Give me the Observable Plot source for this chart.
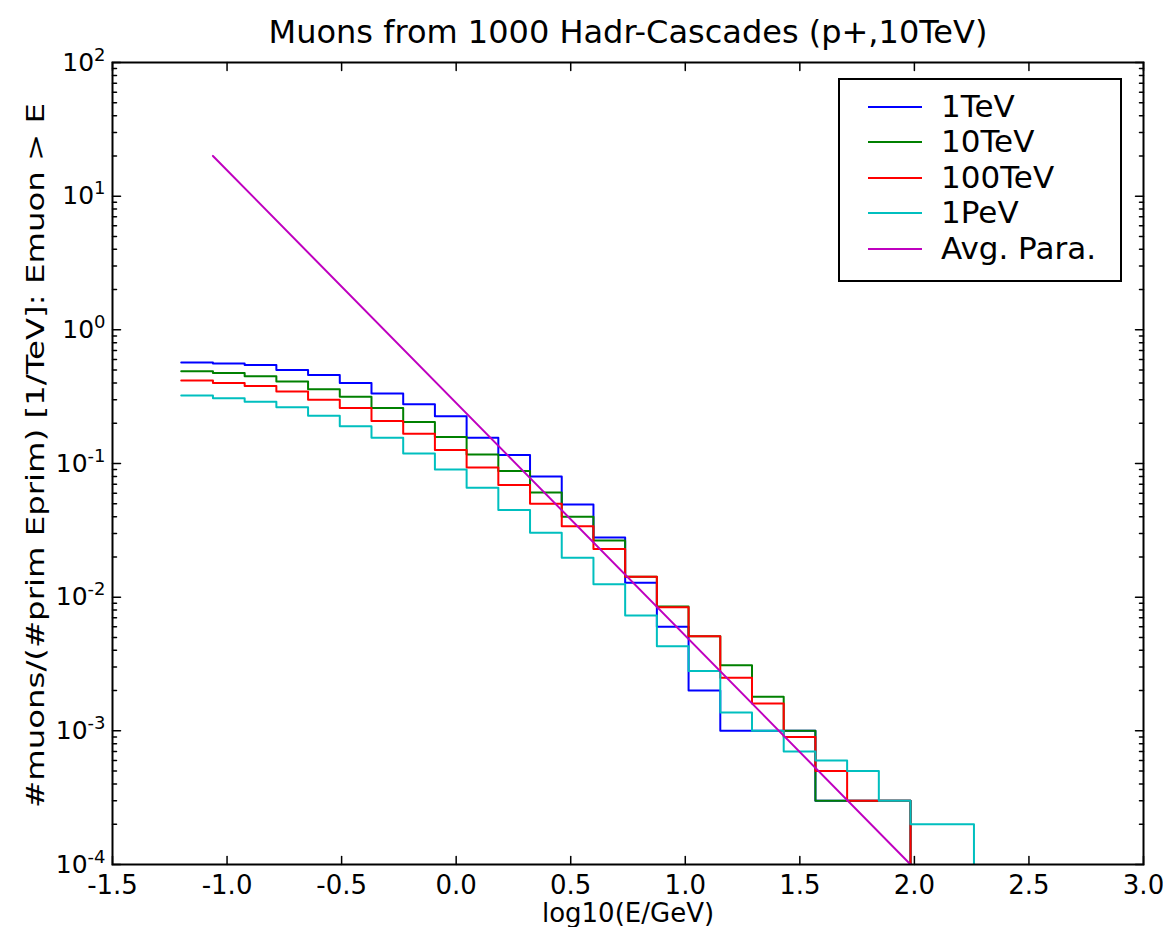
<!DOCTYPE html>
<html>
<head>
<meta charset="utf-8">
<script src="https://cdn.jsdelivr.net/npm/d3@7"></script>
<script src="https://cdn.jsdelivr.net/npm/@observablehq/plot@0.6"></script>
<style>
  body { margin: 0; background: #fff; }
  #wrap { position: relative; width: 1163px; height: 927px; font-family: "DejaVu Sans", sans-serif; }
  #legend { position: absolute; left: 838px; top: 78px; width: 284px; height: 204px; box-sizing: border-box;
            border: 2px solid #000; background: #fff; }
  .row { position: absolute; left: 0; height: 35.5px; line-height: 35.5px; font-size: 31px; color: #000; white-space: nowrap; }
  .swatch { position: absolute; left: 28px; top: 16.75px; width: 54px; height: 2px; }
  .lab { position: absolute; left: 101px; top: 0; }
</style>
</head>
<body>
<div id="wrap"></div>
<script>
// ---- data ----
const title = "Muons from 1000 Hadr-Cascades (p+,10TeV)";
const xLabel = "log10(E/GeV)";
const yLabel = "#muons/(#prim Eprim) [1/TeV]: Emuon > E";

const seriesNames = ["1TeV", "10TeV", "100TeV", "1PeV", "Avg. Para."];
const seriesColors = ["#0000ff", "#008000", "#ff0000", "#00bfbf", "#bf00bf"];

// histogram bin edges (log10(E/GeV))
const edges = [-1.2, -1.0616, -0.9232, -0.7848, -0.6464, -0.508, -0.3696, -0.2312, -0.0928,
               0.0456, 0.184, 0.3224, 0.4608, 0.5992, 0.7376, 0.876, 1.0144, 1.1528, 1.2912,
               1.4296, 1.568, 1.7064, 1.8448, 1.9832, 2.1216, 2.26];

const v1TeV = [0.57, 0.56, 0.545, 0.50, 0.46, 0.40, 0.334, 0.277, 0.226, 0.156, 0.116, 0.080,
               0.0494, 0.028, 0.0128, 0.006, 0.002, 0.001, 0.001, 0.001, 0.0003, 0.0003, 0.0003];
const v10TeV = [0.49, 0.475, 0.45, 0.41, 0.36, 0.316, 0.26, 0.204, 0.158, 0.117, 0.0877, 0.0607,
                0.040, 0.0265, 0.0142, 0.0085, 0.0051, 0.0031, 0.0018, 0.001, 0.0003, 0.0003, 0.0003];
const v100TeV = [0.418, 0.40, 0.38, 0.345, 0.30, 0.26, 0.208, 0.167, 0.126, 0.0935, 0.069, 0.050,
                 0.034, 0.0229, 0.0142, 0.0084, 0.0051, 0.0025, 0.0016, 0.0009, 0.0005, 0.0003, 0.0003];
const v1PeV = [0.323, 0.308, 0.29, 0.264, 0.228, 0.19, 0.156, 0.119, 0.090, 0.0658, 0.0449, 0.0303,
               0.0197, 0.0125, 0.0073, 0.0043, 0.0028, 0.00137, 0.001, 0.0007, 0.0006, 0.0005, 0.0003,
               0.0002, 0.0002];

// average parametrisation (straight line in log-log), end points
const paraX = [-1.0616, 1.9832];
const paraY = [20, 0.0001];

const xDomain = [-1.5, 3.0];
const yDomain = [1e-4, 1e2];
const xTicks = [-1.5, -1.0, -0.5, 0.0, 0.5, 1.0, 1.5, 2.0, 2.5, 3.0];
const yTicks = [1e-4, 1e-3, 1e-2, 1e-1, 1e0, 1e1, 1e2];
const yTickBase = "10";
const yTickExps = ["-4", "-3", "-2", "-1", "0", "1", "2"];

// ---- build tables ----
function stepPoints(name, vals) {
  const pts = vals.map((v, i) => ({series: name, x: edges[i], y: v}));
  const n = vals.length;
  pts.push({series: name, x: edges[n], y: vals[n - 1]});
  pts.push({series: name, x: edges[n], y: yDomain[0]});
  return pts;
}
const hist = [
  ...stepPoints(seriesNames[0], v1TeV),
  ...stepPoints(seriesNames[1], v10TeV),
  ...stepPoints(seriesNames[2], v100TeV),
  ...stepPoints(seriesNames[3], v1PeV)
];
const para = paraX.map((x, i) => ({series: seriesNames[4], x, y: paraY[i]}));

const yMinor = d3.scaleLog().domain(yDomain).ticks().filter(d => !yTicks.some(t => Math.abs(t - d) / t < 1e-9));

const tickShape = {draw(ctx, l) { ctx.moveTo(0, 0); ctx.lineTo(0, -l); }};
const tickOpts = {anchor: "start", shape: tickShape, stroke: "black", strokeWidth: 1.5};

const chart = Plot.plot({
  width: 1163,
  height: 927,
  marginLeft: 112,
  marginRight: 20,
  marginTop: 62,
  marginBottom: 63,
  style: {fontFamily: "DejaVu Sans", fontSize: "26px", background: "white", color: "black"},
  x: {domain: xDomain},
  y: {type: "log", domain: yDomain},
  color: {domain: seriesNames, range: seriesColors},
  marks: [
    Plot.line(hist, {x: "x", y: "y", z: "series", stroke: "series", curve: "step-after", strokeWidth: 2, clip: true}),
    Plot.line(para, {x: "x", y: "y", stroke: "series", strokeWidth: 2, clip: true}),
    // inward ticks on all four sides
    Plot.vector(xTicks, {...tickOpts, x: d => d, y: yDomain[0], length: 8, rotate: 0}),
    Plot.vector(xTicks, {...tickOpts, x: d => d, y: yDomain[1], length: 8, rotate: 180}),
    Plot.vector(yTicks, {...tickOpts, x: xDomain[0], y: d => d, length: 8, rotate: 90}),
    Plot.vector(yTicks, {...tickOpts, x: xDomain[1], y: d => d, length: 8, rotate: -90}),
    Plot.vector(yMinor, {...tickOpts, x: xDomain[0], y: d => d, length: 4, rotate: 90}),
    Plot.vector(yMinor, {...tickOpts, x: xDomain[1], y: d => d, length: 4, rotate: -90}),
    Plot.frame({stroke: "black", strokeWidth: 2}),
    Plot.axisX(xTicks, {tickSize: 0, tickPadding: 11, tickFormat: d => d.toFixed(1), fontSize: 26,
                        label: xLabel, labelAnchor: "center", labelArrow: "none", labelOffset: 57}),
    Plot.axisY(yTicks, {tickSize: 0, tickPadding: 7, tickFormat: d => yTickBase + "^" + yTickExps[yTicks.indexOf(d)], fontSize: 25,
                        label: yLabel, labelAnchor: "center", labelArrow: "none", labelOffset: 86}),
    Plot.text([title], {text: d => d, frameAnchor: "top", dy: -20, lineAnchor: "bottom", fontSize: 32})
  ]
});

// superscript exponents on the log-axis tick labels
d3.select(chart).selectAll('g[aria-label="y-axis tick label"] text').each(function () {
  const parts = this.textContent.split("^");
  const t = d3.select(this);
  t.text(null);
  t.append("tspan").text(parts[0]);
  t.append("tspan").attr("font-size", "18px").attr("dy", "-10").text(parts[1]);
});
// the reference's y label is drawn taller than plain DejaVu metrics
d3.select(chart).selectAll('g[aria-label="y-axis label"] text')
  .attr("textLength", 705).attr("lengthAdjust", "spacingAndGlyphs").attr("dx", 8);

const wrap = document.getElementById("wrap");
wrap.appendChild(chart);

// legend (HTML overlay, upper right of the axes)
const legend = document.createElement("div");
legend.id = "legend";
seriesNames.forEach((name, i) => {
  const row = document.createElement("div");
  row.className = "row";
  row.style.top = (8.9 + i * 35.5) + "px";
  row.style.width = "280px";
  const sw = document.createElement("div");
  sw.className = "swatch";
  sw.style.background = seriesColors[i];
  const lab = document.createElement("span");
  lab.className = "lab";
  lab.textContent = name;
  row.appendChild(sw);
  row.appendChild(lab);
  legend.appendChild(row);
});
wrap.appendChild(legend);
</script>
</body>
</html>
